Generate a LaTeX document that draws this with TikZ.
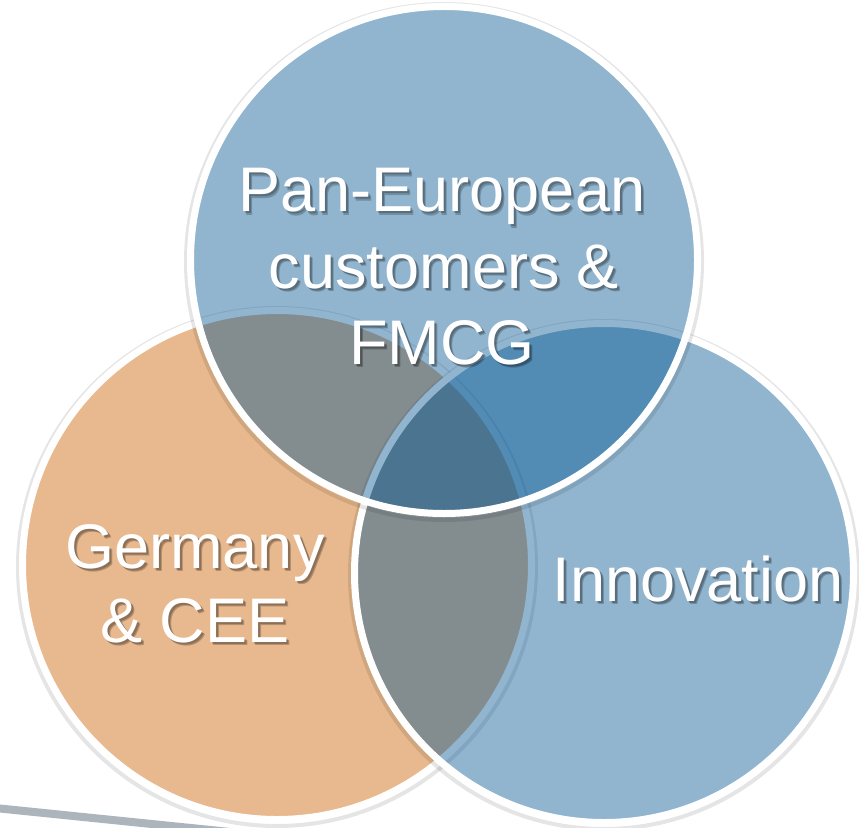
\documentclass[tikz,border=0pt]{standalone}
\usepackage{fontspec}
\setmainfont{Liberation Sans}
\definecolor{orangefill}{RGB}{232,185,142}
\definecolor{bluebase}{RGB}{0,84,146}
\definecolor{streakgrey}{RGB}{172,180,188}
\begin{document}
\begin{tikzpicture}[x=0.75pt,y=-0.75pt,
  lbl/.style={text=white,font=\fontsize{47.25}{50}\selectfont,inner sep=0pt,anchor=base},
  lblsh/.style={text=black,text opacity=0.22,font=\fontsize{47.25}{50}\selectfont,inner sep=0pt,anchor=base},
  bub/.style={draw=white,line width=5.25pt},
  shd/.style={draw=black,draw opacity=0.10,line width=3pt}]
\useasboundingbox (0,0) rectangle (859,827);
\fill[white] (0,0) rectangle (859,827);
\begin{scope}
  \clip (0,0) rectangle (859,827);
  \draw[streakgrey,line width=6pt] (-5,808) -- (240,833);
\end{scope}
\coordinate (co) at (277,565);
\coordinate (cr) at (604,573);
\coordinate (ct) at (444,260);
% Germany & CEE circle
\draw[shd] ([yshift=-1.5pt]co) circle[radius=194.25pt];
\draw[bub,fill=orangefill] (co) circle[radius=190.875pt];
% Innovation circle
\draw[shd] ([yshift=-1.5pt]cr) circle[radius=190.5pt];
\draw[bub,fill=bluebase,fill opacity=0.43] (cr) circle[radius=187.125pt];
% Pan-European circle
\draw[shd] ([yshift=-1.5pt]ct) circle[radius=193.5pt];
\draw[bub,fill=bluebase,fill opacity=0.43] (ct) circle[radius=190.125pt];
% label shadows (soft, two layers)
\node[lblsh] (pe1s) at (444,214) {Pan-European};
\node[lblsh] (pe2s) at (446,290) {customers \&};
\node[lblsh] (pe3s) at (444,366) {FMCG};
\node[lblsh] (ge1s) at (197,570) {Germany};
\node[lblsh] (ge2s) at (197,644) {\& CEE};
\node[lblsh] (inns) at (700,603) {Innovation};
\node[lblsh] (pe1t) at (445,215) {Pan-European};
\node[lblsh] (pe2t) at (447,291) {customers \&};
\node[lblsh] (pe3t) at (445,367) {FMCG};
\node[lblsh] (ge1t) at (198,571) {Germany};
\node[lblsh] (ge2t) at (198,645) {\& CEE};
\node[lblsh] (innt) at (701,604) {Innovation};
% labels
\node[lbl] (pe1) at (442,212) {Pan-European};
\node[lbl] (pe2) at (444,288) {customers \&};
\node[lbl] (pe3) at (442,364) {FMCG};
\node[lbl] (ge1) at (195,568) {Germany};
\node[lbl] (ge2) at (195,642) {\& CEE};
\node[lbl] (inn) at (698,601) {Innovation};
\end{tikzpicture}
\end{document}
